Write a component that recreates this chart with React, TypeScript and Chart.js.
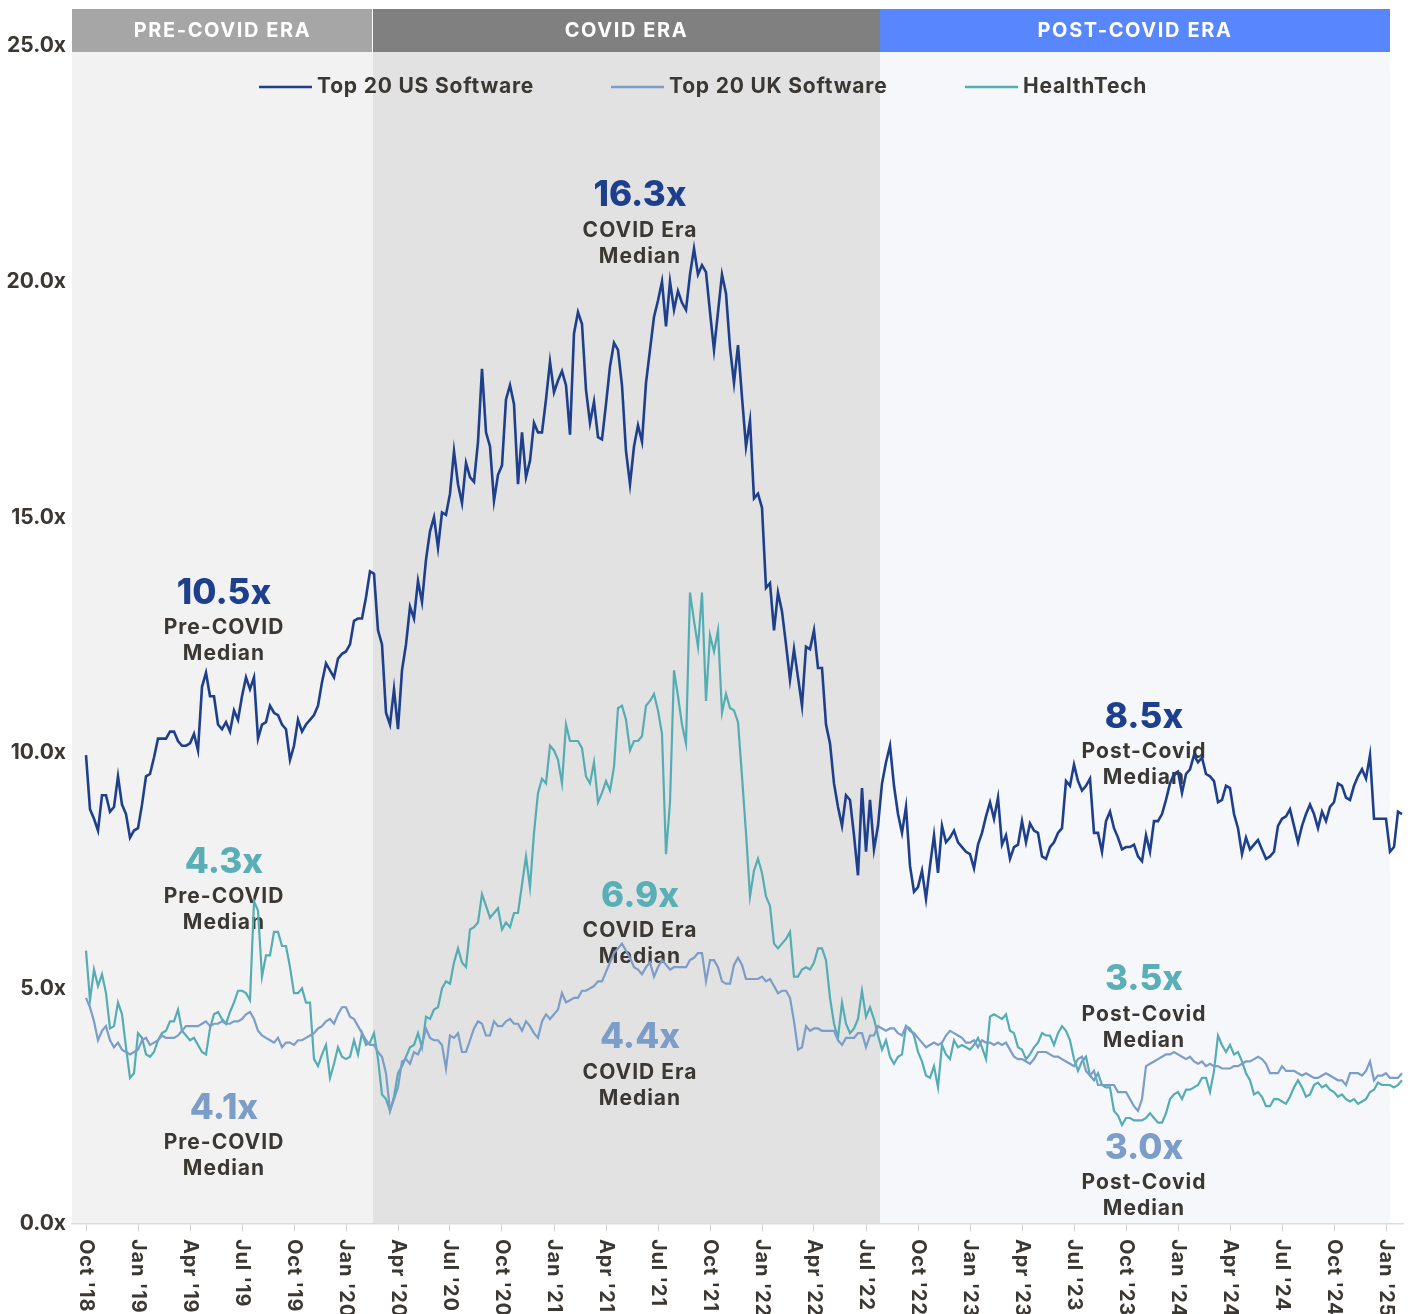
import { useEffect, useRef } from "react";
import { Chart, registerables } from "chart.js";

Chart.register(...registerables);

const FONT = "Inter, 'DejaVu Sans', sans-serif";

// Weekly EV/Revenue multiples, Oct 2018 – Jan 2025
const US_SOFTWARE = [
  9.95, 8.8, 8.6, 8.35, 9.1, 9.1, 8.75, 8.85, 9.5, 8.9,
  8.7, 8.2, 8.35, 8.4, 8.9, 9.5, 9.55, 9.9, 10.3, 10.3,
  10.3, 10.45, 10.45, 10.25, 10.15, 10.15, 10.2, 10.4, 10.05, 11.4,
  11.7, 11.2, 11.2, 10.6, 10.5, 10.65, 10.45, 10.9, 10.7, 11.2,
  11.6, 11.35, 11.6, 10.3, 10.6, 10.65, 11.0, 10.85, 10.8, 10.6,
  10.5, 9.85, 10.15, 10.7, 10.45, 10.6, 10.7, 10.8, 11.0, 11.5,
  11.9, 11.75, 11.6, 12.0, 12.1, 12.15, 12.3, 12.8, 12.85, 12.85,
  13.3, 13.85, 13.8, 12.6, 12.3, 10.85, 10.6, 11.35, 10.5, 11.75,
  12.3, 13.1, 12.85, 13.65, 13.2, 14.1, 14.7, 15.0, 14.35, 15.1,
  15.05, 15.5, 16.4, 15.7, 15.3, 16.15, 15.85, 15.75, 16.6, 18.15,
  16.8, 16.5, 15.35, 15.9, 16.1, 17.5, 17.8, 17.4, 15.7, 16.8,
  15.85, 16.2, 17.0, 16.8, 16.8, 17.5, 18.3, 17.65, 17.9, 18.1,
  17.8, 16.75, 18.9, 19.35, 19.1, 17.7, 17.0, 17.45, 16.7, 16.65,
  17.4, 18.2, 18.7, 18.55, 17.8, 16.4, 15.7, 16.5, 16.95, 16.6,
  17.85, 18.55, 19.25, 19.6, 20.0, 19.05, 20.0, 19.4, 19.8, 19.55,
  19.4, 20.15, 20.7, 20.15, 20.35, 20.2, 19.35, 18.55, 19.35, 20.15,
  19.75, 18.6, 17.85, 18.65, 17.55, 16.5, 17.05, 15.4, 15.5, 15.2,
  13.5, 13.6, 12.6, 13.4, 13.0, 12.3, 11.55, 12.2, 11.6, 11.0,
  12.25, 12.2, 12.6, 11.8, 11.8, 10.6, 10.2, 9.35, 8.85, 8.45,
  9.1, 9.0, 8.25, 7.4, 9.25, 7.9, 9.0, 7.95, 8.45, 9.35,
  9.8, 10.15, 9.3, 8.7, 8.3, 8.85, 7.6, 7.05, 7.15, 7.5,
  6.9, 7.6, 8.25, 7.45, 8.45, 8.1, 8.2, 8.35, 8.1, 8.0,
  7.9, 7.85, 7.55, 8.05, 8.3, 8.65, 8.95, 8.6, 9.05, 8.05,
  8.25, 7.75, 8.0, 8.05, 8.55, 8.1, 8.5, 8.35, 8.3, 7.8,
  7.75, 8.0, 8.1, 8.3, 8.4, 9.4, 9.3, 9.75, 9.4, 9.2,
  9.3, 9.45, 8.3, 8.3, 7.9, 8.55, 8.75, 8.4, 8.2, 7.95,
  8.0, 8.0, 8.05, 7.8, 7.7, 8.25, 7.9, 8.55, 8.55, 8.7,
  9.0, 9.35, 9.55, 9.6, 9.15, 9.55, 9.65, 9.95, 9.8, 9.9,
  9.55, 9.5, 9.4, 8.95, 9.0, 9.3, 9.25, 8.7, 8.4, 7.85,
  8.2, 7.95, 8.05, 8.15, 7.95, 7.75, 7.8, 7.9, 8.45, 8.6,
  8.65, 8.8, 8.45, 8.1, 8.45, 8.7, 8.9, 8.7, 8.4, 8.75,
  8.55, 8.85, 8.95, 9.35, 9.3, 9.05, 9.0, 9.3, 9.5, 9.65,
  9.45, 9.95, 8.6, 8.6, 8.6, 8.6, 7.9, 8.0, 8.75, 8.7,
];

const UK_SOFTWARE = [
  4.8, 4.6, 4.3, 3.9, 4.1, 4.2, 3.9, 3.75, 3.85, 3.7,
  3.65, 3.6, 3.65, 3.7, 3.9, 3.95, 3.8, 3.85, 3.9, 4.0,
  3.95, 3.95, 3.95, 4.0, 4.1, 4.2, 4.2, 4.2, 4.2, 4.25,
  4.3, 4.2, 4.25, 4.25, 4.3, 4.25, 4.25, 4.3, 4.3, 4.35,
  4.45, 4.5, 4.35, 4.1, 4.0, 3.95, 3.9, 3.85, 3.95, 3.75,
  3.85, 3.85, 3.8, 3.9, 3.9, 3.95, 4.0, 4.05, 4.15, 4.2,
  4.3, 4.35, 4.25, 4.45, 4.6, 4.6, 4.4, 4.35, 4.2, 4.05,
  3.9, 3.8, 3.8, 3.65, 3.55, 3.2, 2.4, 2.65, 2.9, 3.45,
  3.5, 3.4, 3.65, 3.6, 3.8, 4.15, 3.95, 3.9, 3.9, 3.8,
  3.3, 4.0, 3.95, 4.05, 3.65, 3.65, 3.9, 4.15, 4.3, 4.25,
  4.0, 4.0, 4.3, 4.2, 4.2, 4.3, 4.35, 4.25, 4.25, 4.1,
  4.3, 4.2, 4.05, 3.95, 4.3, 4.45, 4.35, 4.45, 4.55, 4.9,
  4.7, 4.75, 4.8, 4.8, 4.95, 4.95, 5.0, 5.05, 5.15, 5.15,
  5.35, 5.55, 5.75, 5.85, 5.95, 5.8, 5.65, 5.45, 5.4, 5.3,
  5.45, 5.55, 5.25, 5.45, 5.6, 5.5, 5.4, 5.45, 5.45, 5.45,
  5.45, 5.6, 5.65, 5.75, 5.75, 5.15, 5.6, 5.6, 5.45, 5.15,
  5.1, 5.1, 5.5, 5.65, 5.5, 5.2, 5.2, 5.2, 5.2, 5.25,
  5.15, 5.2, 5.05, 4.9, 4.95, 4.95, 4.8, 4.3, 3.7, 3.75,
  4.2, 4.1, 4.15, 4.15, 4.1, 4.1, 4.1, 4.1, 3.9, 3.8,
  3.95, 3.95, 3.95, 4.05, 4.05, 3.75, 4.0, 4.0, 4.2, 4.15,
  4.1, 4.15, 4.15, 4.05, 4.0, 4.2, 4.1, 4.05, 3.95, 3.85,
  3.75, 3.8, 3.85, 3.8, 3.85, 4.0, 4.1, 4.05, 4.0, 3.95,
  3.85, 3.85, 3.9, 3.75, 3.9, 3.85, 3.85, 3.8, 3.85, 3.8,
  3.85, 3.7, 3.55, 3.5, 3.5, 3.45, 3.4, 3.5, 3.65, 3.65,
  3.65, 3.6, 3.55, 3.55, 3.5, 3.45, 3.4, 3.35, 3.5, 3.55,
  3.25, 3.15, 3.25, 2.95, 2.95, 2.95, 2.95, 2.95, 2.8, 2.8,
  2.8, 2.65, 2.5, 2.4, 2.65, 3.35, 3.4, 3.45, 3.5, 3.55,
  3.6, 3.6, 3.65, 3.6, 3.55, 3.5, 3.55, 3.45, 3.4, 3.45,
  3.35, 3.4, 3.35, 3.35, 3.3, 3.3, 3.3, 3.35, 3.35, 3.4,
  3.45, 3.45, 3.5, 3.55, 3.5, 3.4, 3.2, 3.2, 3.2, 3.35,
  3.25, 3.25, 3.25, 3.2, 3.15, 3.2, 3.15, 3.1, 3.1, 3.15,
  3.2, 3.15, 3.1, 3.05, 3.05, 2.95, 3.2, 3.2, 3.2, 3.15,
  3.25, 3.45, 3.05, 3.15, 3.15, 3.2, 3.1, 3.1, 3.1, 3.2,
];

const HEALTHTECH = [
  5.8, 4.75, 5.4, 5.05, 5.3, 4.9, 4.15, 4.2, 4.7, 4.45,
  3.75, 3.1, 3.2, 4.05, 3.95, 3.6, 3.55, 3.65, 3.9, 4.05,
  4.1, 4.3, 4.3, 4.55, 4.1, 4.0, 3.9, 3.95, 3.8, 3.65,
  3.6, 4.15, 4.45, 4.5, 4.35, 4.25, 4.5, 4.7, 4.95, 4.95,
  4.9, 4.75, 6.85, 6.65, 5.25, 5.7, 5.7, 6.2, 6.2, 5.9,
  5.9, 5.45, 4.9, 4.9, 5.0, 4.7, 4.7, 3.5, 3.35, 3.6,
  3.8, 3.1, 3.4, 3.75, 3.55, 3.5, 3.55, 3.9, 3.6, 4.05,
  3.8, 3.85, 4.05, 3.5, 2.75, 2.65, 2.4, 2.7, 3.2, 3.35,
  3.55, 3.75, 3.8, 4.05, 3.75, 4.4, 4.35, 4.55, 4.6, 5.0,
  5.15, 5.1, 5.55, 5.85, 5.55, 5.45, 6.25, 6.3, 6.4, 7.0,
  6.75, 6.5, 6.6, 6.7, 6.25, 6.4, 6.3, 6.6, 6.6, 7.2,
  7.8, 7.15, 8.3, 9.15, 9.45, 9.35, 10.15, 10.05, 9.85, 9.35,
  10.6, 10.25, 10.25, 10.25, 10.1, 9.5, 9.35, 9.8, 8.95, 9.15,
  9.4, 9.2, 9.7, 10.95, 11.0, 10.7, 10.05, 10.25, 10.25, 10.35,
  11.0, 11.1, 11.25, 10.9, 10.4, 7.85, 8.95, 11.75, 11.2, 10.6,
  10.2, 13.4, 12.8, 12.25, 13.4, 11.1, 12.5, 12.15, 12.6, 10.85,
  11.25, 10.95, 10.9, 10.65, 9.5, 8.3, 6.95, 7.5, 7.75, 7.45,
  6.95, 6.75, 5.95, 5.85, 5.95, 6.05, 6.2, 5.25, 5.25, 5.4,
  5.45, 5.4, 5.55, 5.85, 5.85, 5.6, 4.8, 4.25, 3.95, 4.7,
  4.25, 4.05, 4.15, 4.35, 4.95, 4.4, 4.6, 4.35, 4.0, 3.7,
  3.9, 3.55, 3.4, 3.55, 3.6, 4.2, 4.15, 4.0, 3.65, 3.45,
  3.15, 3.1, 3.35, 2.9, 3.8, 3.6, 3.5, 3.9, 3.75, 3.8,
  3.75, 3.7, 3.8, 3.95, 3.75, 3.5, 4.4, 4.45, 4.4, 4.35,
  4.45, 4.1, 4.05, 3.75, 3.7, 3.5, 3.6, 3.75, 3.85, 4.05,
  4.0, 4.0, 3.8, 4.05, 4.2, 4.1, 3.9, 3.5, 3.25, 3.45,
  3.55, 3.15, 3.05, 3.2, 2.95, 2.9, 2.9, 2.4, 2.3, 2.1,
  2.25, 2.25, 2.2, 2.2, 2.2, 2.25, 2.35, 2.25, 2.15, 2.15,
  2.35, 2.65, 2.75, 2.8, 2.65, 2.85, 2.85, 2.9, 2.95, 3.1,
  3.1, 2.8, 3.25, 4.0, 3.8, 3.65, 3.8, 3.6, 3.65, 3.45,
  3.2, 3.05, 2.75, 2.8, 2.7, 2.5, 2.5, 2.65, 2.65, 2.6,
  2.55, 2.7, 2.9, 3.05, 2.9, 2.7, 2.75, 2.95, 3.0, 2.9,
  2.95, 2.85, 2.8, 2.7, 2.75, 2.65, 2.6, 2.65, 2.55, 2.6,
  2.65, 2.8, 2.85, 3.0, 2.95, 2.95, 2.95, 2.9, 2.95, 3.05,
];

// Categories: week number since the first observation (early Oct 2018)
const WEEKS = US_SOFTWARE.map((_, i) => i);

// Quarterly tick labels (one every 13 weeks)
const TICK_LABELS = [
  "Oct '18", "Jan '19", "Apr '19", "Jul '19", "Oct '19", "Jan '20", "Apr '20",
  "Jul '20", "Oct '20", "Jan '21", "Apr '21", "Jul '21", "Oct '21", "Jan '22",
  "Apr '22", "Jul '22", "Oct '22", "Jan '23", "Apr '23", "Jul '23", "Oct '23",
  "Jan '24", "Apr '24", "Jul '24", "Oct '24", "Jan '25",
];
const WEEKS_PER_QUARTER = 13;

// Eras (week boundaries)
const ERA_NAMES = ["PRE-COVID ERA", "COVID ERA", "POST-COVID ERA"];
const ERA_BOUNDS = [-3.5, 71.75, 198.5, 326];

// Median call-outs
const MEDIAN_VALUES = ["10.5x", "4.3x", "4.1x", "16.3x", "6.9x", "4.4x", "8.5x", "3.5x", "3.0x"];
const MEDIAN_SERIES = [0, 2, 1, 0, 2, 1, 0, 2, 1];
const MEDIAN_LABELS = [
  ["Pre-COVID", "Median"], ["Pre-COVID", "Median"], ["Pre-COVID", "Median"],
  ["COVID Era", "Median"], ["COVID Era", "Median"], ["COVID Era", "Median"],
  ["Post-Covid", "Median"], ["Post-Covid", "Median"], ["Post-Covid", "Median"],
];
const MEDIAN_ANCHOR_WEEK = [34.5, 34.5, 34.5, 138.5, 138.5, 138.5, 264.5, 264.5, 264.5];
const MEDIAN_ANCHOR_Y = [13.39, 7.68, 2.46, 21.82, 6.96, 3.95, 10.76, 5.18, 1.61];

const SERIES_NAMES = ["Top 20 US Software", "Top 20 UK Software", "HealthTech"];
const SERIES_COLORS = ["#1d3f8c", "#7b9dc8", "#55adb4"];
const NUMBER_COLORS = ["#1d3f8c", "#7b9dc8", "#5aafb6"];

const ERA_BAND = ["#f2f2f2", "#e2e2e2", "#f6f7fb"];
const ERA_HEAD = ["#a6a6a6", "#808080", "#5886fd"];
const TEXT_DARK = "#3b3733";

function spacing(ctx: any, px: number) {
  try {
    ctx.letterSpacing = px + "px";
  } catch (e) {
    /* ignore */
  }
}

const decorPlugin = {
  id: "decor",
  beforeDraw(chart: any) {
    const { ctx, chartArea: a, scales } = chart;
    const x = scales.x;
    ctx.save();
    for (let e = 0; e < ERA_NAMES.length; e++) {
      const l = x.getPixelForValue(ERA_BOUNDS[e]);
      const r = x.getPixelForValue(ERA_BOUNDS[e + 1]);
      ctx.fillStyle = ERA_BAND[e];
      ctx.fillRect(l, a.top + 6, r - l, a.bottom - a.top - 6);
      ctx.fillStyle = ERA_HEAD[e];
      ctx.fillRect(l, a.top - 37, r - l, 43);
      ctx.fillStyle = "#ffffff";
      ctx.font = `700 20px ${FONT}`;
      spacing(ctx, 1.6);
      ctx.textAlign = "center";
      ctx.textBaseline = "middle";
      ctx.fillText(ERA_NAMES[e], (l + r) / 2, a.top - 15);
    }
    // thin white separator between first two headers
    const sep = x.getPixelForValue(ERA_BOUNDS[1]);
    ctx.fillStyle = "#ffffff";
    ctx.fillRect(sep - 1, a.top - 37, 1, 43);

    // legend
    const legendX = [259, 611, 965];
    const ly = a.top + 41;
    for (let s = 0; s < SERIES_NAMES.length; s++) {
      ctx.strokeStyle = SERIES_COLORS[s];
      ctx.lineWidth = 2.5;
      ctx.beginPath();
      ctx.moveTo(legendX[s], ly);
      ctx.lineTo(legendX[s] + 53, ly);
      ctx.stroke();
      ctx.fillStyle = TEXT_DARK;
      ctx.font = `700 21px ${FONT}`;
      spacing(ctx, 0.8);
      ctx.textAlign = "left";
      ctx.textBaseline = "middle";
      ctx.fillText(SERIES_NAMES[s], legendX[s] + 58, ly);
    }
    ctx.restore();
  },
  beforeDatasetsDraw(chart: any) {
    const { ctx, scales } = chart;
    const x = scales.x;
    const y = scales.y;
    ctx.save();
    ctx.textAlign = "center";
    ctx.textBaseline = "middle";
    for (let k = 0; k < MEDIAN_VALUES.length; k++) {
      const cx = x.getPixelForValue(MEDIAN_ANCHOR_WEEK[k]);
      const cy = y.getPixelForValue(MEDIAN_ANCHOR_Y[k]);
      ctx.fillStyle = NUMBER_COLORS[MEDIAN_SERIES[k]];
      ctx.font = `800 35px ${FONT}`;
      spacing(ctx, 0);
      ctx.fillText(MEDIAN_VALUES[k], cx, cy);
      ctx.fillStyle = TEXT_DARK;
      ctx.font = `700 21px ${FONT}`;
      spacing(ctx, 1);
      ctx.fillText(MEDIAN_LABELS[k][0], cx, cy + 35);
      ctx.fillText(MEDIAN_LABELS[k][1], cx, cy + 61);
    }
    ctx.restore();
  },
  afterDraw(chart: any) {
    const { ctx, chartArea: a, scales } = chart;
    const x = scales.x;
    ctx.save();
    ctx.fillStyle = TEXT_DARK;
    ctx.font = `700 20px ${FONT}`;
    spacing(ctx, 0.8);
    ctx.textAlign = "left";
    ctx.textBaseline = "middle";
    TICK_LABELS.forEach((lab, k) => {
      const px = x.getPixelForValue(k * WEEKS_PER_QUARTER);
      ctx.save();
      ctx.translate(px, a.bottom + 15);
      ctx.rotate(Math.PI / 2);
      ctx.fillText(lab, 0, 0);
      ctx.restore();
    });
    ctx.restore();
  },
};

export default function App() {
  const ref = useRef<HTMLCanvasElement | null>(null);

  useEffect(() => {
    if (!ref.current) return;
    const series = [US_SOFTWARE, UK_SOFTWARE, HEALTHTECH];
    const chart = new Chart(ref.current, {
      type: "line",
      data: {
        datasets: series.map((vals, s) => ({
          label: SERIES_NAMES[s],
          data: vals.map((v, i) => ({ x: WEEKS[i], y: v })),
          borderColor: SERIES_COLORS[s],
          borderWidth: s === 0 ? 2.6 : 2.2,
          pointRadius: 0,
          tension: 0,
          fill: false,
        })),
      },
      options: {
        animation: false,
        responsive: true,
        maintainAspectRatio: false,
        layout: { padding: { top: 46, right: 9, left: 0, bottom: 0 } },
        plugins: { legend: { display: false }, tooltip: { enabled: false } },
        scales: {
          x: {
            type: "linear",
            min: -3.5,
            max: WEEKS.length - 0.75,
            afterBuildTicks: (scale: any) => {
              scale.ticks = TICK_LABELS.map((_, k) => ({ value: k * WEEKS_PER_QUARTER }));
            },
            afterFit: (scale: any) => {
              scale.height = 90;
            },
            ticks: { display: false },
            grid: {
              display: true,
              drawOnChartArea: false,
              drawTicks: true,
              tickLength: 7,
              color: "#d4d4d4",
            },
            border: { display: true, color: "#dcdcdc", width: 1.5 },
          },
          y: {
            min: 0,
            max: 25,
            afterFit: (scale: any) => {
              scale.width = 72;
            },
            ticks: {
              stepSize: 5,
              padding: 6,
              color: TEXT_DARK,
              font: { family: FONT, size: 21, weight: "bold" },
              callback: (v: any) => Number(v).toFixed(1) + "x",
            },
            grid: { display: false, drawTicks: false },
            border: { display: false },
          },
        },
      },
      plugins: [decorPlugin],
    });
    return () => chart.destroy();
  }, []);

  return (
    <div style={{ position: "absolute", left: 0, top: 0, width: 1412, height: 1314, background: "#ffffff" }}>
      <canvas ref={ref} />
    </div>
  );
}
